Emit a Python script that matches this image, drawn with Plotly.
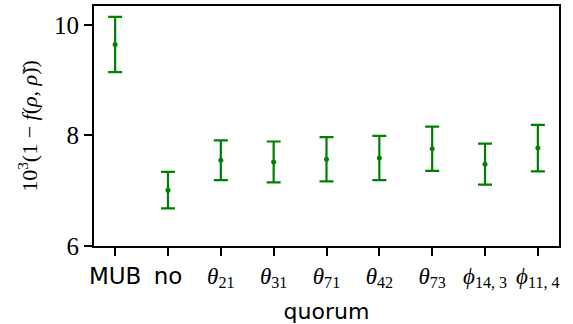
import plotly.graph_objects as go

categories = ["MUB", "no", "θ21", "θ31", "θ71", "θ42", "θ73", "φ14,3", "φ11,4"]
SERIF = "font-family:Liberation Serif"
tick_labels = [
    "MUB",
    "no",
    f"<span style=\"{SERIF}\"><i>θ</i><sub>21</sub></span>",
    f"<span style=\"{SERIF}\"><i>θ</i><sub>31</sub></span>",
    f"<span style=\"{SERIF}\"><i>θ</i><sub>71</sub></span>",
    f"<span style=\"{SERIF}\"><i>θ</i><sub>42</sub></span>",
    f"<span style=\"{SERIF}\"><i>θ</i><sub>73</sub></span>",
    f"<span style=\"{SERIF}\"><i>ϕ</i><sub>14, 3</sub></span>",
    f"<span style=\"{SERIF}\"><i>ϕ</i><sub>11, 4</sub></span>",
]
values = [9.645, 7.01, 7.55, 7.52, 7.57, 7.59, 7.76, 7.48, 7.77]
errors = [0.50, 0.33, 0.36, 0.37, 0.40, 0.40, 0.40, 0.37, 0.42]
y_ticks = [6, 8, 10]

x_pos = list(range(len(categories)))
green = "#008000"

fig = go.Figure()
fig.add_trace(go.Scatter(
    x=x_pos, y=values, mode="markers",
    marker=dict(color=green, size=5),
    error_y=dict(type="data", array=errors, visible=True, color=green,
                 thickness=2.2, width=7),
    showlegend=False,
))

axis_common = dict(
    showline=True, linecolor="black", linewidth=1.8, mirror=True,
    ticks="outside", ticklen=8, tickwidth=1.8, tickcolor="black",
    showgrid=False, zeroline=False, automargin=False,
)

fig.update_layout(
    width=573, height=324,
    margin=dict(l=94, r=14, t=6, b=78),
    plot_bgcolor="white", paper_bgcolor="white",
    xaxis=dict(
        range=[-0.4, 8.4], tickvals=x_pos, ticktext=tick_labels, tickangle=0,
        tickfont=dict(family="DejaVu Sans", size=23, color="black"),
        title=dict(text="quorum", font=dict(family="DejaVu Sans", size=22, color="black"), standoff=14),
        **axis_common,
    ),
    yaxis=dict(
        range=[6, 10.34], tickvals=y_ticks, ticktext=[str(t) for t in y_ticks],
        tickfont=dict(family="Liberation Serif", size=25, color="black"),
        title=dict(text="10<sup>3</sup>(1 − <i>f</i>(<i>ρ</i>, <i>ρ̃</i>))",
                   font=dict(family="Liberation Serif", size=22, color="black"), standoff=10),
        **axis_common,
    ),
)

fig.write_html("out.html")
